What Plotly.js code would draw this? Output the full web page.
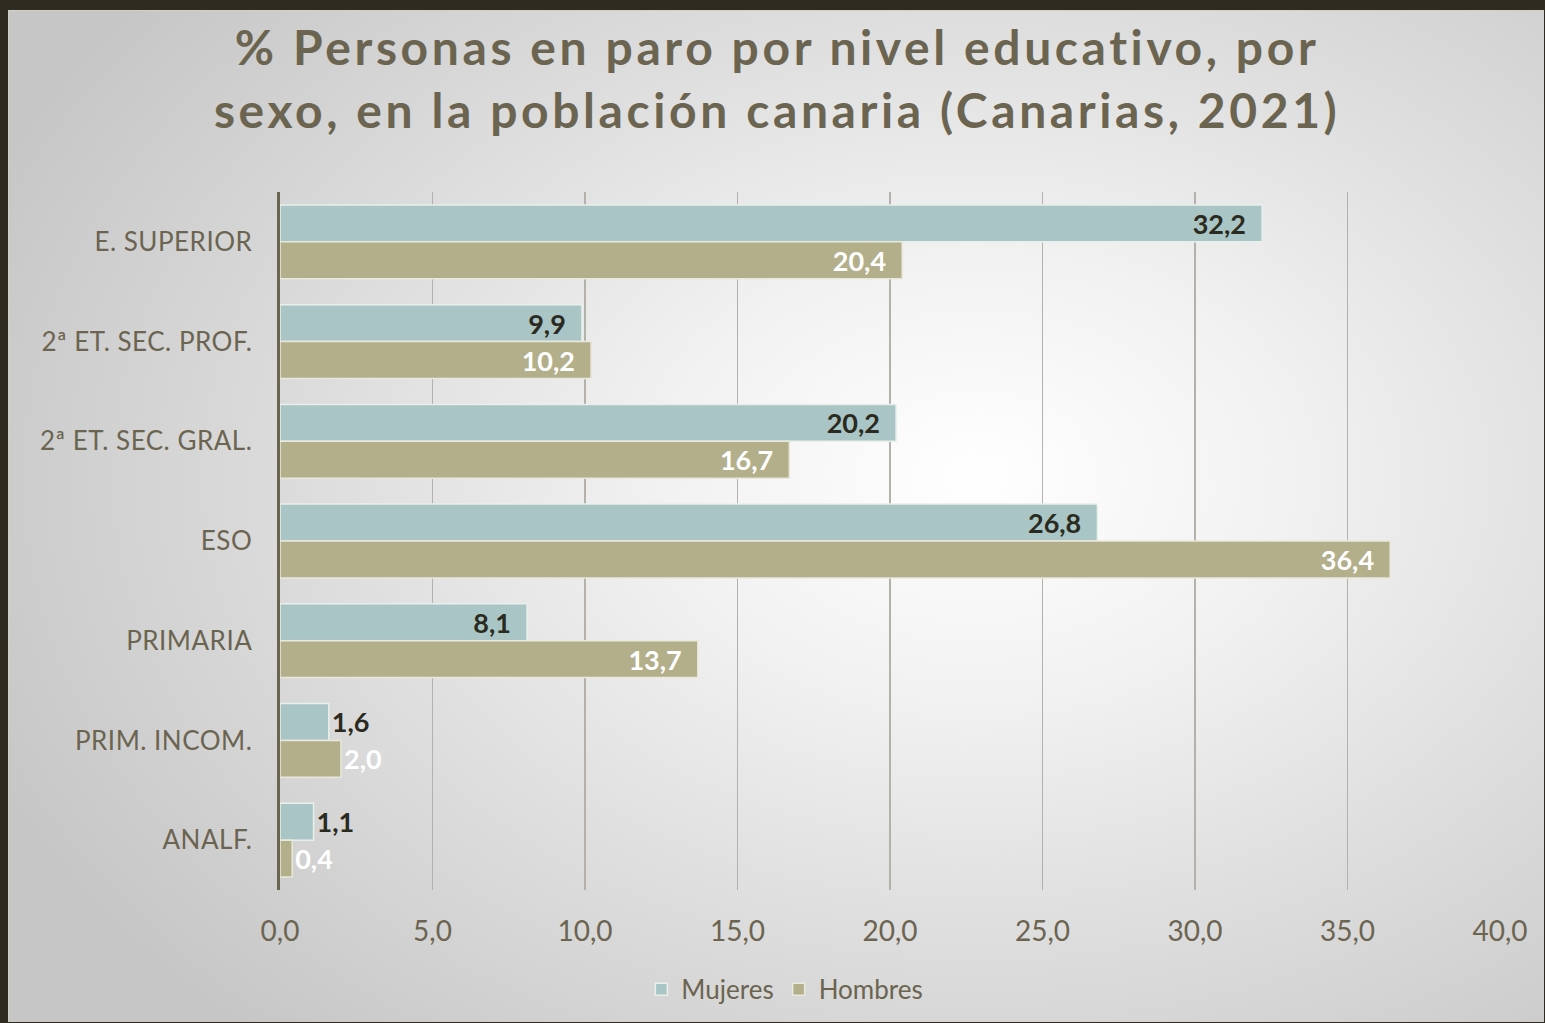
<!DOCTYPE html>
<html><head><meta charset="utf-8">
<script src="https://cdn.plot.ly/plotly-3.0.1.min.js"></script>
<style>
html,body{margin:0;padding:0;width:1545px;height:1023px;overflow:hidden;background:#2e2b20;}
#bg{position:absolute;left:8px;top:10px;width:1535px;height:1011px;border:1px solid #d2d0c0;border-right:none;border-bottom:none;
background:radial-gradient(ellipse 70% 75% at 63% 46%, #ffffff 0%, #f1f1f1 30%, #dedede 60%, #c6c6c6 100%);}
#chart{position:absolute;left:0;top:0;width:1545px;height:1023px;}
#chart .gtitle{letter-spacing:3.6px;}
#chart .ytick text{letter-spacing:0.5px;}
</style></head>
<body><div id="bg"></div><div id="chart"></div>
<script>
const categories = ["E. SUPERIOR","2ª ET. SEC. PROF.","2ª ET. SEC. GRAL.","ESO","PRIMARIA","PRIM. INCOM.","ANALF."];
const mujeres = [32.2, 9.9, 20.2, 26.8, 8.1, 1.6, 1.1];
const hombres = [20.4, 10.2, 16.7, 36.4, 13.7, 2.0, 0.4];
const xTicks = [0,5,10,15,20,25,30,35,40];

const font = "Lato, 'Open Sans', sans-serif";
const olive = "#6b6450";
const pos = v => v.map(x => x < 3 ? "outside" : "inside");
const tmpl = v => v.map(x => x < 3 ? "%{x:.1f}" : "%{x:.1f}\u00a0\u00a0");

const traces = [
  {type:"bar", orientation:"h", name:"Mujeres", y:categories, x:mujeres,
   marker:{color:"#a9c5c5", line:{color:"#e9efea", width:1.5}},
   texttemplate:tmpl(mujeres), textposition:pos(mujeres), insidetextanchor:"end", textangle:0,
   textfont:{family:font, size:27, color:"#2b2a20", weight:"bold"}, cliponaxis:false, hoverinfo:"none"},
  {type:"bar", orientation:"h", name:"Hombres", y:categories, x:hombres,
   marker:{color:"#b3af8b", line:{color:"#e9e8dc", width:1.5}},
   texttemplate:tmpl(hombres), textposition:pos(hombres), insidetextanchor:"end", textangle:0,
   textfont:{family:font, size:27, color:"#ffffff", weight:"bold"}, cliponaxis:false, hoverinfo:"none"}
];

const layout = {
  width:1545, height:1023,
  paper_bgcolor:"rgba(0,0,0,0)", plot_bgcolor:"rgba(0,0,0,0)",
  separators:",.",
  font:{family:font, color:olive},
  margin:{l:280, r:45, t:192, b:133, pad:0},
  barmode:"group", bargap:0.26, bargroupgap:0,
  uniformtext:{mode:"show", minsize:27},
  title:{text:"% Personas en paro por nivel educativo, por<br>sexo, en la población canaria (Canarias, 2021)",
    font:{family:font, size:48, color:olive, weight:"bold"},
    x:0.503, xanchor:"center", y:0.936, yanchor:"middle", xref:"container", yref:"container"},
  xaxis:{range:[0,40], tickvals:xTicks, tickformat:".1f", showgrid:true, gridcolor:"#b3b1a9", gridwidth:1.5,
    zeroline:false, showline:false, ticks:"", ticklabelstandoff:22,
    tickfont:{family:font, size:28, color:olive}, fixedrange:true},
  yaxis:{type:"category", autorange:"reversed", showline:true, linecolor:olive, linewidth:3.5,
    ticks:"", ticklabelstandoff:19, showgrid:false, zeroline:false,
    tickfont:{family:font, size:26, color:olive}, fixedrange:true},
  legend:{orientation:"h", x:0.508, xanchor:"center", y:0.033, yanchor:"middle", xref:"container", yref:"container",
    font:{family:font, size:26, color:olive}, itemwidth:30, bgcolor:"rgba(0,0,0,0)"},
  showlegend:true
};

Plotly.newPlot("chart", traces, layout, {staticPlot:true, displayModeBar:false});
</script></body></html>
